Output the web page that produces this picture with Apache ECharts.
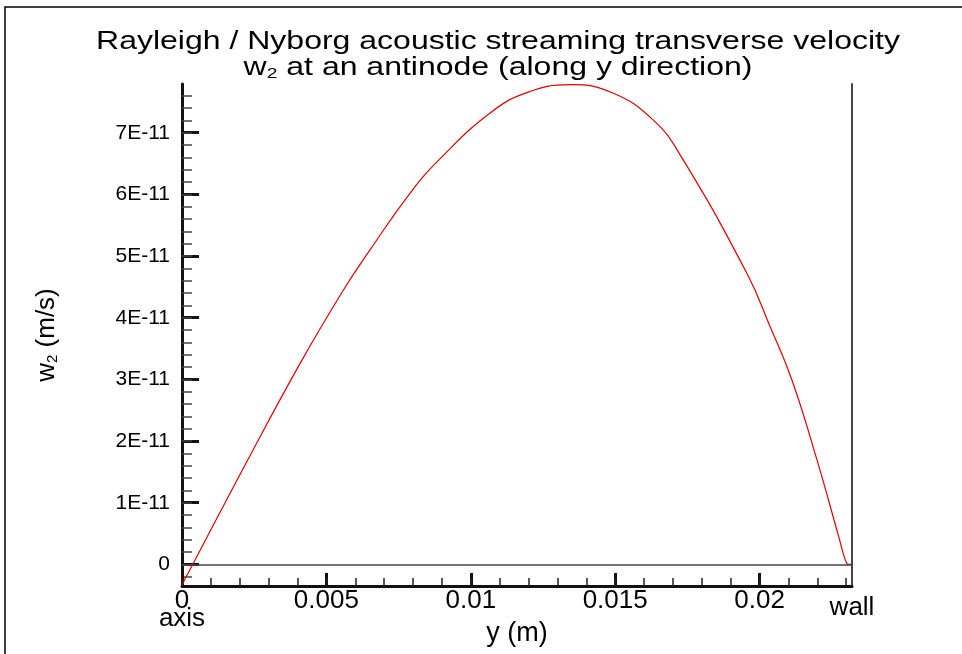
<!DOCTYPE html>
<html><head><meta charset="utf-8">
<script src="https://cdn.jsdelivr.net/npm/echarts@6/dist/echarts.min.js"></script>
<style>html,body{margin:0;padding:0;background:#fff}#c{width:962px;height:654px}</style>
</head><body><div id="c"></div>
<script>
// Data (y in metres, w2 in m/s)
const yPos = [0, 0.00037, 0.00209, 0.00409, 0.00559, 0.00651, 0.0079, 0.00894, 0.01067, 0.01194, 0.01344, 0.01494, 0.01633, 0.01725, 0.01956, 0.02037, 0.02112, 0.02199, 0.02274, 0.02297, 0.02308, 0.0232];
const w2 = [-0.33e-11, 0, 1.53e-11, 3.26e-11, 4.45e-11, 5.10e-11, 6.02e-11, 6.58e-11, 7.32e-11, 7.65e-11, 7.78e-11, 7.64e-11, 7.20e-11, 6.64e-11, 4.72e-11, 3.85e-11, 2.99e-11, 1.69e-11, 0.45e-11, 0.07e-11, 0, 0];
const xMajorTicks = [0, 0.005, 0.01, 0.015, 0.02];
const xLabelValues = [0, 0.005, 0.01, 0.015, 0.02, 0.0232];
const xLabelTexts = ['0', '0.005', '0.01', '0.015', '0.02', 'wall'];
const yMajorTicks = [0, 1e-11, 2e-11, 3e-11, 4e-11, 5e-11, 6e-11, 7e-11];
const yLabelTexts = ['0', '1E-11', '2E-11', '3E-11', '4E-11', '5E-11', '6E-11', '7E-11'];
const titleLine1 = 'Rayleigh / Nyborg acoustic streaming transverse velocity';
const titleLine2 = '{t|w}{s|2}{t| at an antinode (along y direction)}';
const xName = 'y (m)';
const yName = '{t|w}{s|2}{t| (m/s)}';
const xMin = 0, xMax = 0.0232, yMin = -0.35e-11, yMax = 7.79e-11;

const xMinorTicks = [];
for (let i = 0; i <= 23; i++) xMinorTicks.push(i * 0.001);
const yMinorTicks = [];
for (let i = -1; i <= 38; i++) yMinorTicks.push(i * 0.2e-11);

const FONT = 'Liberation Sans';
const chart = echarts.init(document.getElementById('c'));
const data = yPos.map((x, i) => [x, w2[i]]);

chart.setOption({
  animation: false,
  backgroundColor: '#fff',
  textStyle: { fontFamily: FONT },
  graphic: [
    { type: 'rect', shape: { x: 5, y: 7, width: 1200, height: 900 }, style: { fill: null, stroke: '#000', lineWidth: 1.5 }, silent: true },
    {
      type: 'group', x: 498, y: 0, scaleX: 1.28, silent: true,
      children: [
        { type: 'text', x: 0, y: 42, style: { text: titleLine1, fontFamily: FONT, fontSize: 25, fill: '#000', align: 'center', verticalAlign: 'middle' } },
        { type: 'text', x: 0, y: 68, style: {
            text: titleLine2, fontFamily: FONT, fontSize: 25, fill: '#000', align: 'center', verticalAlign: 'middle',
            rich: {
              t: { fontFamily: FONT, fontSize: 25, fill: '#000', lineHeight: 26 },
              s: { fontFamily: FONT, fontSize: 15, fill: '#000', lineHeight: 26, padding: [12, 0, 0, 0] }
            } } }
      ]
    }
  ],
  grid: { left: 182, top: 84, right: 110, bottom: 68, containLabel: false, outerBoundsMode: 'none' },
  xAxis: [{
    type: 'value', min: xMin, max: xMax, position: 'bottom',
    name: xName, nameLocation: 'middle', nameGap: 34, nameMoveOverlap: false,
    nameTextStyle: { fontFamily: FONT, fontSize: 27, color: '#000', verticalAlign: 'top' },
    axisLine: { show: true, onZero: false, lineStyle: { color: '#111', width: 3 } },
    axisTick: { show: true, inside: true, length: 13, lineStyle: { color: '#111', width: 3 }, customValues: xMajorTicks },
    axisLabel: {
      show: true, margin: 6, customValues: xLabelValues, color: '#000', fontFamily: FONT, fontSize: 26,
      formatter: function (v) {
        const idx = xLabelValues.findIndex(t => Math.abs(t - v) < 1e-9);
        const s = idx >= 0 ? xLabelTexts[idx] : '';
        if (idx === 0) return '{n|' + s + '}\n{n|axis}';
        if (s === 'wall') return '{w|wall}';
        return '{n|' + s + '}';
      },
      rich: {
        n: { fontFamily: FONT, fontSize: 26, color: '#000', lineHeight: 18 },
        w: { fontFamily: FONT, fontSize: 26, color: '#000', lineHeight: 18, padding: [13, 0, 0, 0] }
      }
    },
    splitLine: { show: false }
  }, {
    type: 'value', min: xMin, max: xMax, position: 'bottom',
    axisLine: { show: false, onZero: false },
    axisTick: { show: true, inside: true, length: 8, lineStyle: { color: '#222', width: 1.5 }, customValues: xMinorTicks },
    axisLabel: { show: false },
    splitLine: { show: false }
  }],
  yAxis: [{
    type: 'value', min: yMin, max: yMax, position: 'left',
    name: yName, nameLocation: 'middle', nameGap: 122, nameRotate: 90, nameMoveOverlap: false,
    nameTextStyle: {
      fontFamily: FONT, fontSize: 26, color: '#000',
      rich: {
        t: { fontFamily: FONT, fontSize: 26, color: '#000' },
        s: { fontFamily: FONT, fontSize: 15, color: '#000', padding: [12, 0, 0, 0] }
      }
    },
    axisLine: { show: true, onZero: false, lineStyle: { color: '#111', width: 3 } },
    axisTick: { show: true, inside: true, length: 17, lineStyle: { color: '#111', width: 3 }, customValues: yMajorTicks },
    axisLabel: {
      show: true, margin: 12, customValues: yMajorTicks, color: '#000', fontFamily: FONT, fontSize: 21,
      formatter: function (v) {
        const idx = yMajorTicks.findIndex(t => Math.abs(t - v) < 1e-14);
        return idx >= 0 ? yLabelTexts[idx] : '';
      }
    },
    splitLine: { show: false }
  }, {
    type: 'value', min: yMin, max: yMax, position: 'left',
    axisLine: { show: false, onZero: false },
    axisTick: { show: true, inside: true, length: 10, lineStyle: { color: '#444', width: 1.5 }, customValues: yMinorTicks },
    axisLabel: { show: false },
    splitLine: { show: false }
  }, {
    type: 'value', min: yMin, max: yMax, position: 'right',
    axisLine: { show: true, onZero: false, lineStyle: { color: '#444', width: 2 } },
    axisTick: { show: false },
    axisLabel: { show: false },
    splitLine: { show: false }
  }],
  series: [{
    type: 'line', xAxisIndex: 0, yAxisIndex: 0, data: data, smooth: 0.45,
    showSymbol: false, symbol: 'none',
    lineStyle: { color: '#e00000', width: 1.2 },
    markLine: {
      silent: true, symbol: 'none', label: { show: false },
      lineStyle: { color: '#444', width: 1.5, type: 'solid' },
      data: [{ yAxis: 0 }]
    }
  }]
});
</script></body></html>
